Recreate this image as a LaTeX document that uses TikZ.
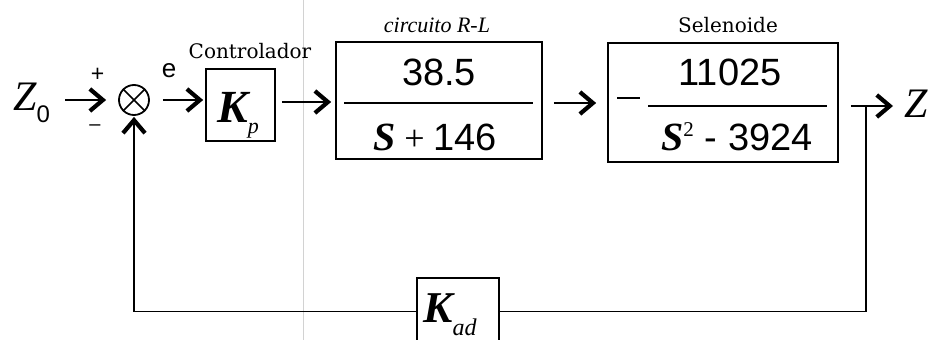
\documentclass[tikz,border=0pt]{standalone}
\usepackage{fontspec}
\setmainfont{Liberation Serif}
\newfontfamily\numfont{Liberation Sans}
\newfontfamily\labfont{DejaVu Serif}
\usetikzlibrary{arrows.meta,calc}

\begin{document}
\begin{tikzpicture}[x=1pt,y=-1pt,
  wire/.style={line width=1.9pt},
  sig/.style={wire,-{Straight Barb[length=13pt,width=22pt,line width=4.2pt]}},
  blk/.style={draw,line width=1.7pt,inner sep=0pt},
  txt/.style={inner sep=0pt},
  num/.style={txt,font=\numfont\fontsize{38}{40}\selectfont},
  bar/.style={line width=1.6pt}
]
\path[use as bounding box] (0,0) rectangle (929,340);
\clip (0,0) rectangle (929,340);
\fill[white] (0,0) rectangle (929,340);

% faint page fold
\draw[gray!35,line width=1pt] (303,0) -- (303,340);

% input and summing junction
\node[txt,anchor=base west] (z0) at (13,110)
  {\fontsize{42}{42}\selectfont\itshape Z\raisebox{-12pt}{\numfont\upshape\fontsize{24}{24}\selectfont 0}};
\node[circle,draw,line width=1.8pt,minimum size=30pt,inner sep=0pt] (sum) at (134,100) {};
\draw[line width=1.6pt] (sum.north west) -- (sum.south east)
                        (sum.north east) -- (sum.south west);
\node[txt,font=\numfont\fontsize{23}{23}\selectfont] (plus) at (97.5,74.5) {+};
\node[txt,font=\numfont\fontsize{20}{20}\selectfont] (minus) at (95,128) {\textendash};
\node[txt,font=\numfont\fontsize{26}{26}\selectfont] (err) at (169,71) {e};

% controller
\node[blk,minimum width=69pt,minimum height=72pt] (kp) at (240.5,105) {};
\node[txt,anchor=base west] (kplab) at (217,122)
  {\fontsize{46}{46}\selectfont\bfseries\itshape K\raisebox{-11pt}{\mdseries\fontsize{22}{22}\selectfont p}};
\node[txt,font=\labfont\fontsize{20}{22}\selectfont] (kpcap) at (250,51) {Controlador};

% R-L circuit
\node[blk,minimum width=206pt,minimum height=117pt] (rl) at (439,100.5) {};
\node[txt,font=\itshape\fontsize{22}{24}\selectfont] (rlcap) at (437,25) {circuito R-L};
\node[num] (rlnum) at (439,72) {38.5};
\draw[bar] (344,103) -- (533,103);
\node[txt,anchor=base] (rlden) at (435,150)
  {{\fontsize{40}{40}\selectfont\bfseries\itshape S}\hspace{9pt}{\fontsize{36}{36}\selectfont +}\hspace{9pt}{\numfont\fontsize{38}{40}\selectfont 146}};

% solenoid
\node[blk,minimum width=230pt,minimum height=119pt] (sel) at (723,102.5) {};
\node[txt,font=\labfont\fontsize{20}{22}\selectfont] (selcap) at (728,25) {Selenoide};
\draw[bar] (617,98) -- (640,98);
\node[num] (selnum) at (730,72) {11025};
\draw[bar] (648,106) -- (827,106);
\node[txt,anchor=base] (selden) at (737,150)
  {{\fontsize{40}{40}\selectfont\bfseries\itshape S}\raisebox{14pt}{\fontsize{21}{21}\selectfont 2}\hspace{11pt}{\numfont\fontsize{38}{40}\selectfont -}\hspace{11pt}{\numfont\fontsize{38}{40}\selectfont 3924}};

% output
\node[txt,anchor=base west] (zout) at (904,117) {\fontsize{42}{42}\selectfont\itshape Z};
\coordinate (br) at (866,106);

% feedback sensor
\node[blk,minimum width=82pt,minimum height=67pt] (kad) at (458,311.5) {};
\node[txt,anchor=base west] (kadlab) at (423,322)
  {\fontsize{44}{44}\selectfont\bfseries\itshape K\raisebox{-13pt}{\mdseries\fontsize{24}{24}\selectfont ad}};

% forward path
\draw[sig,shorten <=15pt,shorten >=12pt] (z0.east |- sum) -- (sum.west);
\draw[sig,shorten <=13pt,shorten >=2pt] (sum.east) -- (kp.west |- sum);
\draw[sig,shorten <=6pt,shorten >=4pt] (kp.east |- 0,102) -- (rl.west |- 0,102);
\draw[sig,shorten <=11pt,shorten >=11pt] (rl.east |- 0,103) -- (sel.west |- 0,103);
\draw[sig,shorten <=12pt,shorten >=11pt] (sel.east |- br) -- (zout.west |- br);

% feedback path
\draw[wire] (br) |- (kad.east);
\draw[sig,shorten >=1pt] (kad.west) -| (sum.south);
\end{tikzpicture}
\end{document}
